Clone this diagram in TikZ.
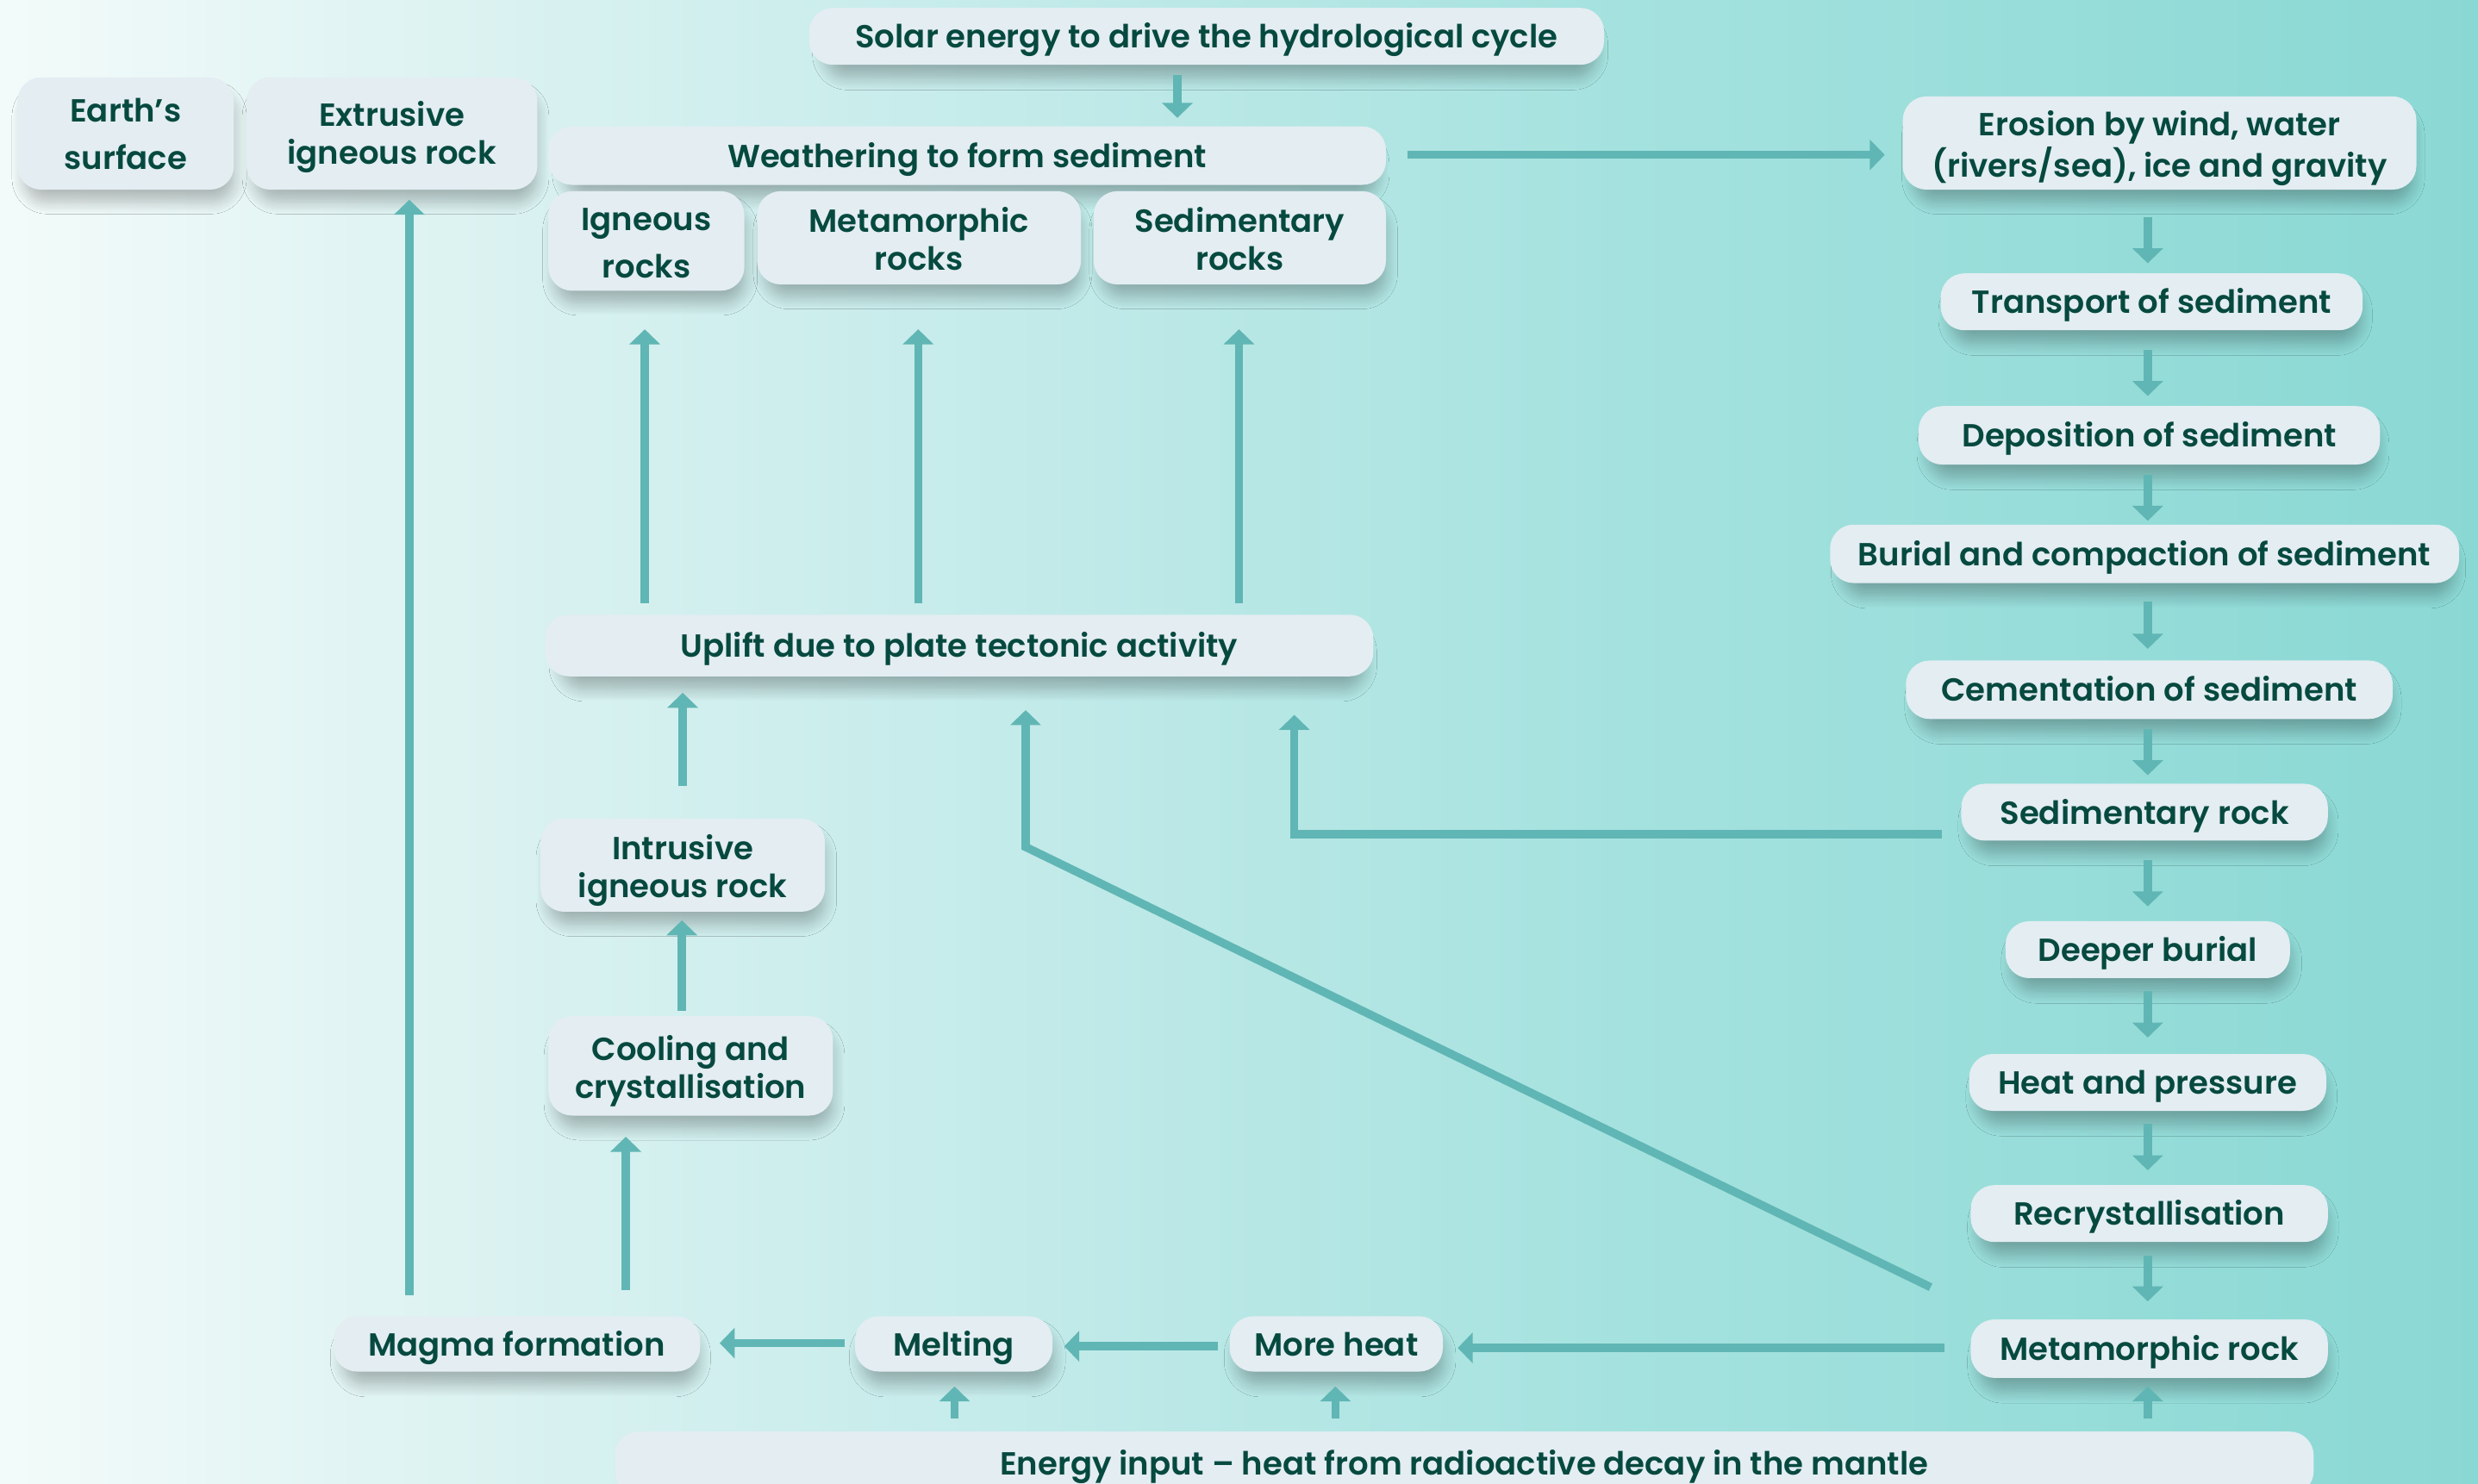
\documentclass[tikz,border=0pt]{standalone}
\usepackage{fontspec}
\setmainfont{Poppins}[BoldFont={Poppins SemiBold}]
\usetikzlibrary{arrows.meta,calc,shadows.blur}
\definecolor{txt}{HTML}{06493F}
\definecolor{boxc}{HTML}{E3EDF2}
\definecolor{arrc}{HTML}{60B6B4}
\definecolor{bgA}{HTML}{F3FBFA}
\definecolor{bgB}{HTML}{E0F4F3}
\definecolor{bgC}{HTML}{C4EBEA}
\definecolor{bgD}{HTML}{A5E2DF}
\definecolor{bgE}{HTML}{8AD8D4}
\pgfdeclarehorizontalshading{bgshade}{100bp}{color(0bp)=(bgA); color(25bp)=(bgA); color(32.5bp)=(bgB); color(45bp)=(bgC); color(57.5bp)=(bgD); color(75bp)=(bgE); color(100bp)=(bgE)}
\newcommand\twoline[2][12.2pt]{\begin{tabular}{@{}c@{}}\rule{0pt}{#1}#2\end{tabular}}
\begin{document}
\begin{tikzpicture}[x=0.5pt,y=-0.5pt,
  box/.style={fill=boxc, rounded corners=7.5pt, text=txt, align=center, inner sep=0pt,
    font=\fontsize{10.1}{12}\selectfont\bfseries,
    execute at begin node={\rule{0pt}{10.4pt}},
    execute at end node={\rule[-3pt]{0pt}{3pt}},
    blur shadow={shadow xshift=1.2pt, shadow yshift=-4.5pt, shadow scale=0.97, shadow blur radius=4pt, shadow blur steps=12, shadow opacity=26}},
  multi/.style={execute at begin node={}, execute at end node={}},
  sz/.style 2 args={minimum width=#1*0.5pt, minimum height=#2*0.5pt},
  arr/.style={draw=arrc, line width=2.6pt, -{Triangle[length=4.75pt,width=9.5pt]}}]
\useasboundingbox (0,0) rectangle (1568,939);
\clip (0,0) rectangle (1568,939);
\shade[shading=bgshade] (0,0) rectangle (1568,939);

% nodes
\node[box, sz={503}{36}] (solar) at (763.5,23) {Solar energy to drive the hydrological cycle};
\node[box, sz={530}{37}] (weath) at (612,98.5) {Weathering to form sediment};
\node[box, multi, sz={124}{63}] (ign) at (409,152.5) {\twoline{Igneous\\[3pt]rocks}};
\node[box, multi, sz={205}{59}] (metr) at (581.5,150.5) {\twoline{Metamorphic\\rocks}};
\node[box, multi, sz={185}{59}] (sedr) at (784.5,150.5) {\twoline{Sedimentary\\rocks}};
\node[box, multi, sz={137}{71}] (earth) at (79.5,84.5) {\twoline[11.2pt]{Earth’s\\[3pt]surface}};
\node[box, multi, sz={184}{71}] (extr) at (248,84.5) {\twoline[11.2pt]{Extrusive\\igneous rock}};
\node[box, multi, sz={325}{59}] (eros) at (1366.5,90.5) {\twoline{Erosion by wind, water\\(rivers/sea), ice and gravity}};
\node[box, sz={267}{36}] (trans) at (1361.5,191) {Transport of sediment};
\node[box, sz={292}{37}] (depo) at (1360,275.5) {Deposition of sediment};
\node[box, sz={398}{37}] (burial) at (1357,350.5) {Burial and compaction of sediment};
\node[box, sz={308}{37}] (cement) at (1360,436.5) {Cementation of sediment};
\node[box, sz={232}{36}] (sedrock) at (1357,514) {Sedimentary rock};
\node[box, sz={180}{36}] (deeper) at (1359,601) {Deeper burial};
\node[box, sz={226}{36}] (heat) at (1359,685) {Heat and pressure};
\node[box, sz={226}{36}] (recry) at (1360,768) {Recrystallisation};
\node[box, sz={226}{37}] (metrock) at (1360,853.5) {Metamorphic rock};
\node[box, sz={524}{39}] (uplift) at (607,408.5) {Uplift due to plate tectonic activity};
\node[box, multi, sz={180}{59}] (intr) at (432,547.5) {\twoline{Intrusive\\igneous rock}};
\node[box, multi, sz={180}{63}] (cool) at (437,674.5) {\twoline{Cooling and\\crystallisation}};
\node[box, sz={232}{35}] (magma) at (327,850.5) {Magma formation};
\node[box, sz={125}{35}] (melt) at (603.5,850.5) {Melting};
\node[box, sz={135}{35}] (more) at (845.5,850.5) {More heat};
\node[box, sz={1075}{40}] (energy) at (926.5,926) {Energy input – heat from radioactive decay in the mantle};

% helper coordinates
\coordinate (cR) at (1359,0);
\coordinate (c845) at (845,0);
\coordinate (c604) at (604,0);
\coordinate (c259) at (259,0);
\coordinate (c396) at (396,0);
\coordinate (c431) at (431.5,0);
\coordinate (c432) at (432,0);
\coordinate (c408) at (408,0);
\coordinate (c581) at (581,0);
\coordinate (c784) at (784,0);
\coordinate (c745) at (745,0);
\coordinate (c819) at (819,0);
\coordinate (c649) at (649,0);
\coordinate (r853) at (0,853);
\coordinate (r852) at (0,852);
\coordinate (r850) at (0,850);
\coordinate (r98) at (0,98);
\coordinate (s1) at ($(sedrock.west)+(-12,14)$);
\coordinate (s2) at ($(metrock.north west)+(-25,-20)$);
\coordinate (k2) at (649,536);

% right column
\draw[arr, shorten <=8.5pt, shorten >=3pt] (eros.south -| cR) -- (trans.north -| cR);
\draw[arr, shorten <=6pt, shorten >=3pt] (trans.south -| cR) -- (depo.north -| cR);
\draw[arr, shorten <=3pt, shorten >=1pt] (depo.south -| cR) -- (burial.north -| cR);
\draw[arr, shorten <=5.5pt, shorten >=3.5pt] (burial.south -| cR) -- (cement.north -| cR);
\draw[arr, shorten <=3pt, shorten >=2.5pt] (cement.south -| cR) -- (sedrock.north -| cR);
\draw[arr, shorten <=6pt, shorten >=4.5pt] (sedrock.south -| cR) -- (deeper.north -| cR);
\draw[arr, shorten <=4pt, shorten >=5pt] (deeper.south -| cR) -- (heat.north -| cR);
\draw[arr, shorten <=4pt, shorten >=4.5pt] (heat.south -| cR) -- (recry.north -| cR);
\draw[arr, shorten <=4pt, shorten >=5.5pt] (recry.south -| cR) -- (metrock.north -| cR);
\draw[arr, shorten <=4pt, shorten >=2.5pt] (energy.north -| cR) -- (metrock.south -| cR);
\draw[arr, shorten <=4pt, shorten >=4.5pt] (energy.north -| c845) -- (more.south -| c845);
\draw[arr, shorten <=4pt, shorten >=4.5pt] (energy.north -| c604) -- (melt.south -| c604);

% bottom row
\draw[arr, shorten <=8pt, shorten >=4.5pt] (metrock.west |- r853) -- (more.east |- r853);
\draw[arr, shorten <=3.5pt, shorten >=3.5pt] (more.west |- r852) -- (melt.east |- r852);
\draw[arr, shorten <=3pt, shorten >=6pt] (melt.west |- r850) -- (magma.east |- r850);

% left side
\draw[arr, shorten <=6.5pt, shorten >=3pt] (magma.north -| c259) -- (extr.south -| c259);
\draw[arr, shorten <=8pt, shorten >=6.5pt] (magma.north -| c396) -- (cool.south -| c396);
\draw[arr, shorten <=1.5pt, shorten >=2.5pt] (cool.north -| c431) -- (intr.south -| c431);
\draw[arr, shorten <=10pt, shorten >=5pt] (intr.north -| c432) -- (uplift.south -| c432);
\draw[arr, shorten <=3.5pt, shorten >=12pt] (uplift.north -| c408) -- (ign.south -| c408);
\draw[arr, shorten <=3.5pt, shorten >=14pt] (uplift.north -| c581) -- (metr.south -| c581);
\draw[arr, shorten <=3.5pt, shorten >=14pt] (uplift.north -| c784) -- (sedr.south -| c784);

% top
\draw[arr, shorten <=3pt, shorten >=2.5pt] (solar.south -| c745) -- (weath.north -| c745);
\draw[arr, shorten <=6.5pt, shorten >=5.5pt] (weath.east |- r98) -- (eros.west |- r98);

% return connectors
\draw[arr, shorten >=12pt] (s1) -| (uplift.south -| c819);
\draw[arr, shorten >=10.5pt] (s2) -- (k2) -- (uplift.south -| c649);
\end{tikzpicture}
\end{document}
